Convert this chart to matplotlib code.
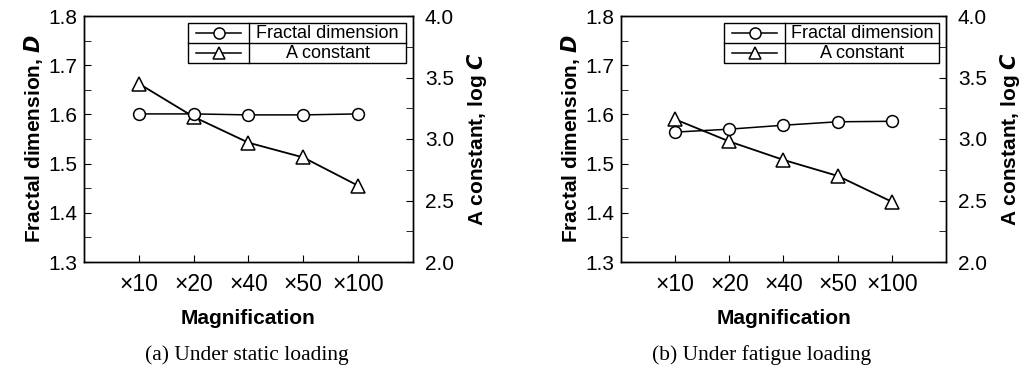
import matplotlib
matplotlib.use("Agg")
import matplotlib.pyplot as plt
from matplotlib.lines import Line2D
from matplotlib.patches import Rectangle
from matplotlib.ticker import MultipleLocator

plt.rcParams['font.family'] = ['Liberation Sans', 'DejaVu Sans']

categories = ["×10", "×20", "×40", "×50", "×100"]
static_D = [1.601, 1.601, 1.599, 1.599, 1.601]
static_logC = [3.45, 3.18, 2.97, 2.85, 2.62]
fatigue_D = [1.564, 1.570, 1.578, 1.585, 1.586]
fatigue_logC = [3.16, 2.98, 2.83, 2.70, 2.49]
captions = ["(a) Under static loading", "(b) Under fatigue loading"]
legend_labels = ["Fractal dimension", "A constant"]

W, H = 1025, 375
fig = plt.figure(figsize=(W / 100, H / 100), dpi=100)

panels = [
    dict(rect=(84, 16, 413, 262), D=static_D, C=static_logC, cap=captions[0], capx=247,
         leg=(0.316, 0.502, 0.979)),
    dict(rect=(621, 16, 946, 262), D=fatigue_D, C=fatigue_logC, cap=captions[1], capx=762,
         leg=(0.317, 0.505, 0.978)),
]

FS = 15
x = list(range(len(categories)))
for p in panels:
    l, t, r, b = p['rect']
    ax = fig.add_axes([l / W, 1 - b / H, (r - l) / W, (b - t) / H])
    ax2 = ax.twinx()
    ax.set_zorder(ax2.get_zorder() + 1)
    ax.patch.set_visible(False)

    ax2.plot(x, p['C'], color='black', lw=1.3, marker='^', markersize=10,
             markerfacecolor='white', markeredgecolor='black', markeredgewidth=1.1)
    ax.plot(x, p['D'], color='black', lw=1.1, marker='o', markersize=8.5,
            markerfacecolor='white', markeredgecolor='black', markeredgewidth=1.1)

    ax.set_xlim(-1, 5)
    ax.set_ylim(1.3, 1.8)
    ax2.set_ylim(2.0, 4.0)
    ax.set_xticks(x)
    ax.set_xticklabels(categories, fontsize=16.5)
    ax.yaxis.set_major_locator(MultipleLocator(0.1))
    ax.yaxis.set_minor_locator(MultipleLocator(0.05))
    ax2.yaxis.set_major_locator(MultipleLocator(0.5))
    ax2.yaxis.set_minor_locator(MultipleLocator(0.25))
    ax.set_yticklabels([f"{v:.1f}" for v in ax.get_yticks()], fontsize=FS)
    ax2.set_yticklabels([f"{v:.1f}" for v in ax2.get_yticks()], fontsize=FS)

    ax.tick_params(axis='both', which='both', direction='in', top=False, right=False)
    ax.tick_params(axis='y', which='major', length=5, pad=5)
    ax.tick_params(axis='y', which='minor', length=5)
    ax.tick_params(axis='x', which='major', length=5, pad=8)
    ax2.tick_params(axis='y', which='both', direction='in', pad=8.5)
    ax2.tick_params(axis='y', which='major', length=5)
    ax2.tick_params(axis='y', which='minor', length=5)
    ax2.tick_params(axis='x', which='both', top=False, bottom=False)
    for a in (ax, ax2):
        for s in a.spines.values():
            s.set_linewidth(1.0)

    ax.set_ylabel("Fractal dimension, $\\boldsymbol{D}$", fontsize=FS, fontweight='bold', labelpad=2)
    ax2.set_ylabel("A constant, log $\\boldsymbol{C}$", fontsize=FS, fontweight='bold', labelpad=8)
    ax.set_xlabel("Magnification", fontsize=FS, fontweight='bold', labelpad=9)

    # table-like legend
    x0, xd, x1 = p['leg']
    y0, ym, y1 = 0.809, 0.890, 0.9715
    ax.add_patch(Rectangle((x0, y0), x1 - x0, y1 - y0, transform=ax.transAxes,
                           facecolor='white', edgecolor='black', lw=1.0, zorder=5))
    ax.add_line(Line2D([x0, x1], [ym, ym], transform=ax.transAxes, color='black', lw=1.0, zorder=6))
    ax.add_line(Line2D([xd, xd], [y0, y1], transform=ax.transAxes, color='black', lw=1.0, zorder=6))
    m = 0.025
    for (ya, yb), mk, ms, lab in [((ym, y1), 'o', 8, legend_labels[0]),
                                  ((y0, ym), '^', 9, legend_labels[1])]:
        yc = (ya + yb) / 2
        ax.add_line(Line2D([x0 + m, xd - m], [yc, yc], transform=ax.transAxes, color='black',
                           lw=1.1, zorder=7))
        ax.add_line(Line2D([(x0 + xd) / 2], [yc], transform=ax.transAxes, marker=mk, markersize=ms,
                           markerfacecolor='white', markeredgecolor='black', markeredgewidth=1.1,
                           zorder=8))
        ax.text((xd + x1) / 2, yc, lab, transform=ax.transAxes, ha='center', va='center',
                fontsize=13, zorder=8)

    fig.text(p['capx'] / W, 1 - 355 / H, p['cap'], ha='center', va='center',
             fontsize=15.5, family=['Liberation Serif', 'DejaVu Serif'])

fig.savefig("out.png", dpi=100)
